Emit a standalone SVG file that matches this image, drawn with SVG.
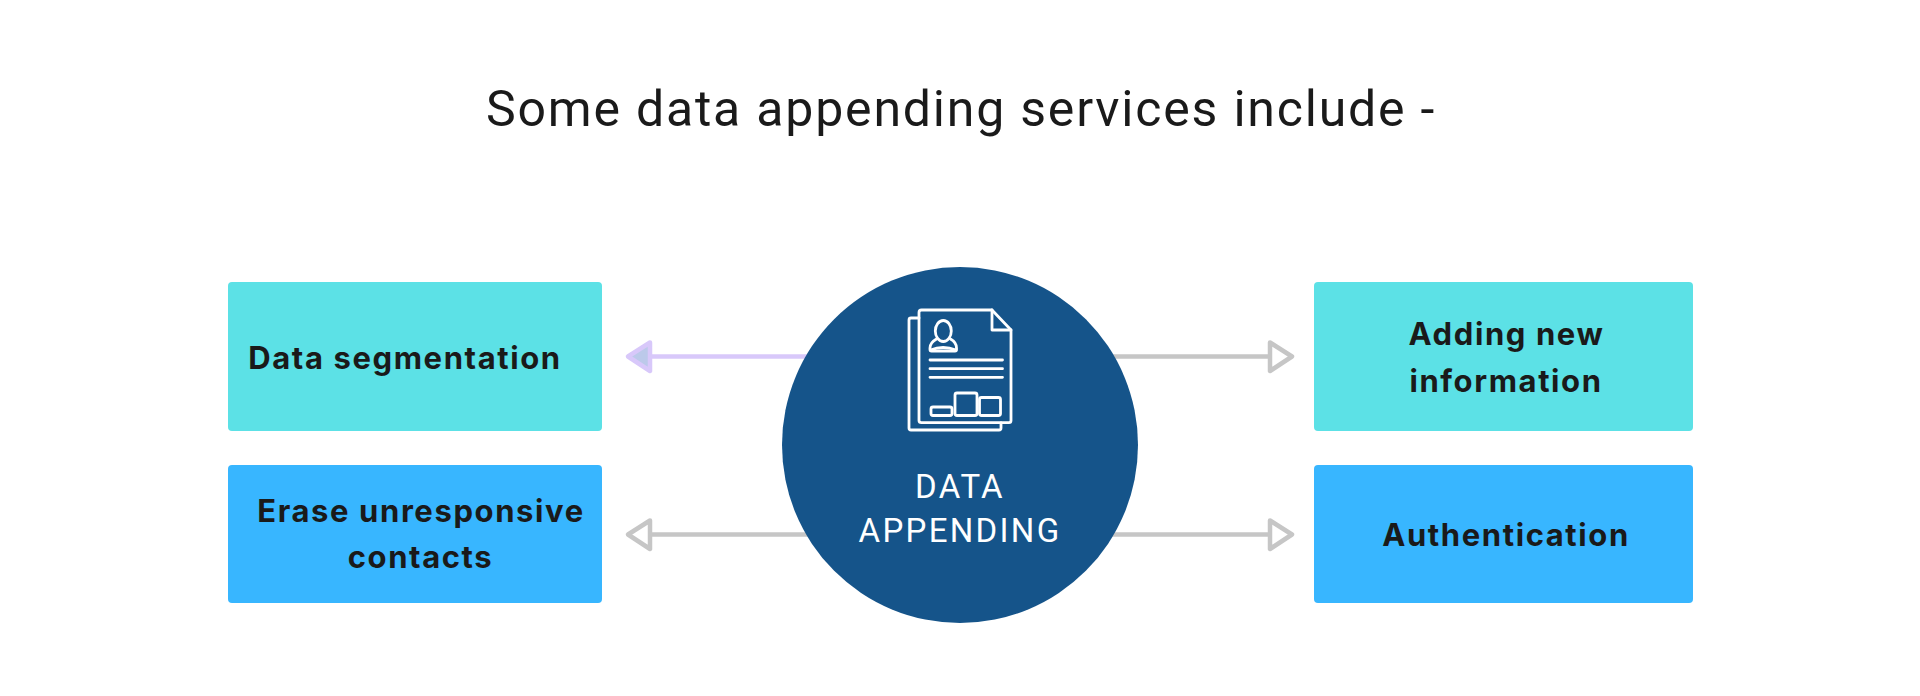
<svg xmlns="http://www.w3.org/2000/svg" width="1920" height="696" viewBox="0 0 1920 696">
<style>
.t{font-family:Inter,Roboto,"Liberation Sans",sans-serif;fill:#1a1a1a}
.title{font-family:Roboto,"Liberation Sans",sans-serif;font-size:50px;letter-spacing:1.8px}
.lbl{font-size:31px;font-weight:700;letter-spacing:1.6px;text-anchor:middle}
.c{font-family:Roboto,"Liberation Sans",sans-serif;font-size:33px;letter-spacing:2.3px;fill:#fff;text-anchor:middle}
.cy{fill:#5ce1e6}.bl{fill:#38b6ff}
.ln{fill:none;stroke:#c6c6c6;stroke-width:4.500}
.hd{fill:#fff;stroke:#c6c6c6;stroke-width:4.500;stroke-linejoin:round}
.ic{fill:none;stroke:#fff;stroke-width:2.800;stroke-linejoin:round;stroke-linecap:round}
</style>
<rect width="1920" height="696" fill="#fff"/>
<text id="title" class="t title" x="486" y="126">Some data appending services include -</text>
<g id="connectors">
<path class="ln" d="M830 356.500H650" style="stroke:#d8c8fa"/>
<path d="M650 342.500L628 356.500L650 371Z" fill="#bcc9ea" stroke="#d8c8fa" stroke-width="4.500" stroke-linejoin="round"/>
<path class="ln" d="M830 534.500H650"/>
<path class="hd" d="M650 520.500L628 534.500L650 549Z"/>
<path class="ln" d="M1090 356.500H1270"/>
<path class="hd" d="M1270 342.500L1292 356.500L1270 371Z"/>
<path class="ln" d="M1090 534.500H1270"/>
<path class="hd" d="M1270 520.500L1292 534.500L1270 549Z"/>
</g>
<g id="node-segmentation"><rect class="cy" x="228" y="282" width="374" height="149" rx="4"/><text class="t lbl" x="405" y="369">Data segmentation</text></g>
<g id="node-erase"><rect class="bl" x="228" y="465" width="374" height="138" rx="4"/><text class="t lbl" x="421" y="521.500">Erase unresponsive</text><text class="t lbl" x="420.500" y="568">contacts</text></g>
<g id="node-adding"><rect class="cy" x="1314" y="282" width="379" height="149" rx="4"/><text class="t lbl" x="1506.500" y="345">Adding new</text><text class="t lbl" x="1506" y="391.500">information</text></g>
<g id="node-authentication"><rect class="bl" x="1314" y="465" width="379" height="138" rx="4"/><text class="t lbl" x="1506" y="545.500">Authentication</text></g>
<g id="node-center">
<circle cx="960" cy="445" r="178" fill="#15548a"/>
<g class="ic">
<path d="M919 312.500Q919 310 921.500 310H992L1011 330V420.500Q1011 422.700 1009 422.700H921.500Q919 422.700 919 420.500Z"/>
<path d="M992 310V330H1011"/>
<path d="M919 318H911Q909 318 909 320V428Q909 430 911 430H999Q1001 430 1001 428V423"/>
<ellipse cx="943.300" cy="331" rx="8" ry="10.500"/>
<path d="M936.500 339C933 341 930 344 930 348V349.500Q930 351 931.500 351H955Q956.500 351 956.500 349.500V348C956.500 344 954 341 950.500 339"/>
<path d="M930.500 350Q943 345 956 350"/>
<path d="M930 360H1002.500M930 368.700H1002.500M930 377.300H1002.500"/>
<rect x="931" y="407" width="21" height="8.500" rx="2"/>
<rect x="955" y="393" width="22" height="22.500" rx="2"/>
<rect x="979.500" y="397.500" width="21" height="18" rx="2"/>
</g>
<text class="c" x="960" y="497.500">DATA</text>
<text class="c" x="960" y="541.500">APPENDING</text>
</g>
</svg>
